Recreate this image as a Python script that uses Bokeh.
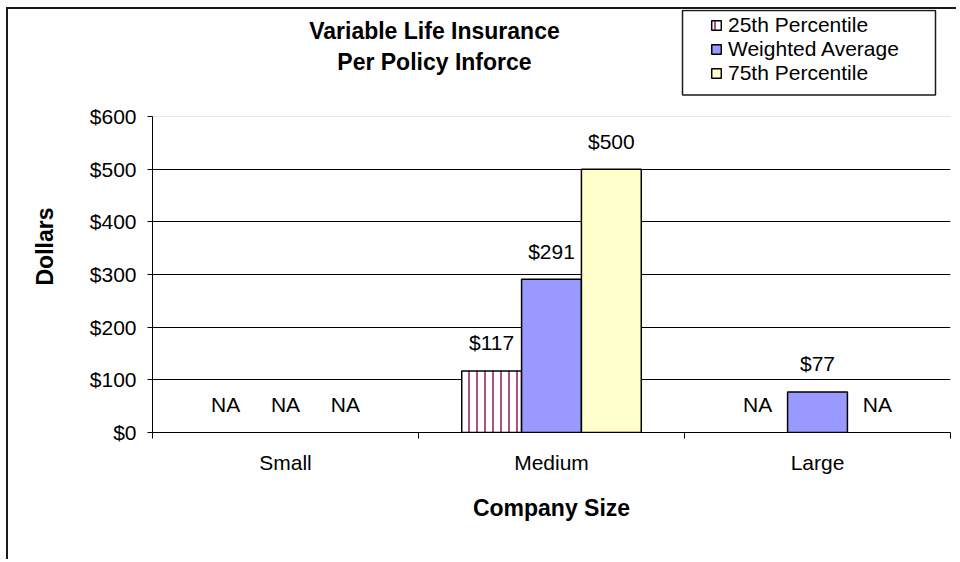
from bokeh.plotting import figure
from bokeh.models import (ColumnDataSource, Range1d, FixedTicker, PrintfTickFormatter,
                          Legend, LegendItem, Label, BoxAnnotation)
from bokeh.core.properties import value
from bokeh.embed import file_html
from bokeh.resources import INLINE

# ---- data ----
categories = ["Small", "Medium", "Large"]
series_names = ["25th Percentile", "Weighted Average", "75th Percentile"]
p25 = [None, 117, None]
wavg = [None, 291, 77]
p75 = [None, 500, None]
y_ticks = [0, 100, 200, 300, 400, 500, 600]
grid_ticks = [100, 200, 300, 400, 500]
title_lines = ["Variable Life Insurance", "Per Policy Inforce"]
x_label = "Company Size"
y_label = "Dollars"

FONT = "Liberation Sans"
BAR_W = 0.225
offsets = [-BAR_W, 0.0, BAR_W]
fills = ["white", "#9999FF", "#FFFFCC"]

# frame extends to the top of the canvas so that title & legend (inside frame) are visible
p = figure(width=950, height=552, output_backend="svg", toolbar_location=None,
           x_range=Range1d(0, 3), y_range=Range1d(0, 803.2),
           min_border_left=144, min_border_right=8, min_border_top=0,
           min_border_bottom=129)
p.margin = (7, 0, 0, 6)
p.styles = {"border-left": "2px solid #1a1a1a", "border-top": "2px solid #1a1a1a"}
p.outline_line_color = None
p.background_fill_color = "white"
p.border_fill_color = "white"

# grid
p.xgrid.visible = False
p.ygrid.ticker = FixedTicker(ticks=grid_ticks)
p.ygrid.grid_line_color = "black"
p.ygrid.grid_line_width = 1
p.ygrid.bounds = (0, 3)

renderers = []
for si, (vals, fill) in enumerate(zip([p25, wavg, p75], fills)):
    xs, tops = [], []
    lx, ly, lt = [], [], []
    for ci, v in enumerate(vals):
        xc = ci + 0.5 + offsets[si]
        if v is not None:
            xs.append(xc)
            tops.append(v)
            lt.append("$%d" % v)
            ly.append(v)
        else:
            lt.append("NA")
            ly.append(0)
        lx.append(xc)
    src = ColumnDataSource(dict(x=xs, top=tops))
    kw = dict(fill_color=fill, line_color="black", line_width=1.5)
    if si == 0:
        kw.update(hatch_pattern="vertical_line", hatch_color="#B0508A",
                  hatch_scale=8, hatch_weight=2)
    r = p.vbar(x="x", top="top", bottom=0, width=BAR_W, source=src, **kw)
    renderers.append(r)
    lsrc = ColumnDataSource(dict(x=lx, y=ly, t=lt))
    p.text(x="x", y="y", text="t", source=lsrc, text_font=value(FONT),
           text_font_size="21px", text_align="center", text_baseline="alphabetic",
           y_offset=-28, text_color="black")

# light top line of the plot area at the max tick
p.segment(x0=[0], y0=[y_ticks[-1]], x1=[3], y1=[y_ticks[-1]], line_color="#e6e6e6", line_width=1)

# axes
ya = p.yaxis[0]
ya.bounds = (y_ticks[0], y_ticks[-1])
ya.ticker = FixedTicker(ticks=y_ticks)
ya.formatter = PrintfTickFormatter(format="$%d")
ya.major_label_text_font = FONT
ya.major_label_text_font_size = "21px"
ya.major_label_text_color = "black"
ya.major_tick_out = 5
ya.major_tick_in = 0
ya.minor_tick_line_color = None
ya.axis_line_color = "black"
ya.major_tick_line_color = "black"
ya.major_label_standoff = 11
# non-breaking spaces shift the rotated label down to the middle of the value range
ya.axis_label = y_label + "\u00a0" * 8
ya.axis_label_text_font = FONT
ya.axis_label_text_font_style = "bold"
ya.axis_label_text_font_size = "23px"
ya.axis_label_text_color = "black"
ya.axis_label_standoff = 29

xa = p.xaxis[0]
centers = [i + 0.5 for i in range(len(categories))]
xa.ticker = FixedTicker(ticks=centers, minor_ticks=list(range(len(categories) + 1)))
xa.major_label_overrides = {c: name for c, name in zip(centers, categories)}
xa.major_tick_out = 0
xa.major_tick_in = 0
xa.minor_tick_out = 6
xa.minor_tick_in = 0
xa.minor_tick_line_color = "black"
xa.axis_line_color = "black"
xa.major_label_text_font = FONT
xa.major_label_text_font_size = "21px"
xa.major_label_text_color = "black"
xa.major_label_standoff = 12
xa.axis_label = x_label
xa.axis_label_text_font = FONT
xa.axis_label_text_font_style = "bold"
xa.axis_label_text_font_size = "23px"
xa.axis_label_text_color = "black"
xa.axis_label_standoff = 18

# title (two lines)
for txt, yy in zip(title_lines, [761.5, 704]):
    p.add_layout(Label(x=1.06, y=yy, text=txt, text_font=FONT, text_font_style="bold",
                       text_font_size="23px", text_align="center",
                       text_baseline="alphabetic", text_color="black"))

# legend box
p.add_layout(BoxAnnotation(left=1.9925, right=2.9436, bottom=640.8, top=801.3,
                           fill_alpha=0, line_color="#1a1a1a", line_width=1.5,
                           line_alpha=1))

legend = Legend(items=[LegendItem(label=n, renderers=[r]) for n, r in zip(series_names, renderers)],
                location=(558, 347), orientation="vertical", padding=0, margin=0,
                spacing=0, label_height=24, glyph_height=12, glyph_width=12,
                label_standoff=6, border_line_alpha=0, background_fill_alpha=0,
                label_text_font=FONT, label_text_font_size="21px",
                label_text_color="black")
p.add_layout(legend)

open("out.html", "w").write(file_html(p, INLINE))
